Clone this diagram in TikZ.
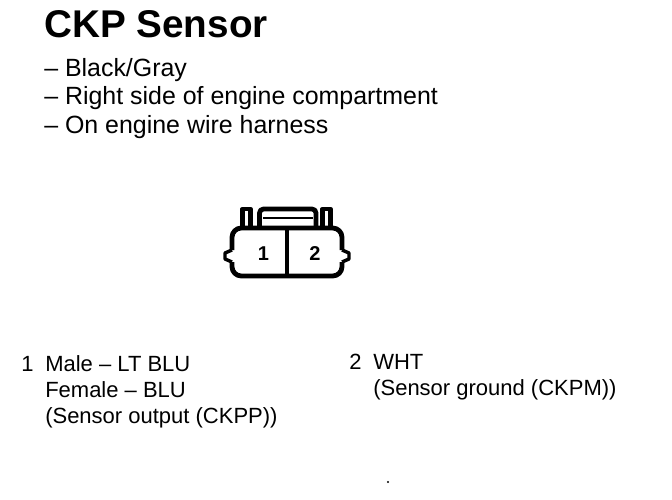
\documentclass[tikz,border=0pt]{standalone}
\usepackage{fontspec}
\setmainfont{Liberation Sans}
\tikzset{
  txt/.style={anchor=base west,inner sep=0pt,font=\fontsize{16.5}{18}\selectfont},
  big/.style={anchor=base west,inner sep=0pt,font=\fontsize{18.7}{20}\selectfont},
  ttl/.style={anchor=base west,inner sep=0pt,font=\fontsize{29}{31}\selectfont\bfseries},
  num/.style={inner sep=0pt,font=\fontsize{15}{16}\selectfont\bfseries},
  ln/.style={line width=3.6pt,line join=round}
}
\begin{document}
\begin{tikzpicture}[x=0.75pt,y=-0.75pt]
\useasboundingbox[fill=white] (0,0) rectangle (672,500);
\node[ttl] (title) at (44,37) {CKP Sensor};
\node[big] (a1) at (44,76) {– Black/Gray};
\node[big] (a2) at (44,104) {– Right side of engine compartment};
\node[big] (a3) at (44,133) {– On engine wire harness};
% tabs and latch
\draw[ln] (242.5,228) -- (242.5,209) -- (250.5,209) -- (250.5,228);
\draw[ln] (322.5,228) -- (322.5,209) -- (330.5,209) -- (330.5,228);
\draw[ln,rounded corners=3pt] (259.5,228) -- (259.5,209) -- (316,209) -- (316,228);
\draw[line width=2pt] (263,218) -- (313,218);
% body
\draw[ln,rounded corners=7pt] (232,250) -- (232,228) -- (342,228) -- (342,250);
\draw[ln,rounded corners=7pt] (232,262) -- (232,276) -- (342,276) -- (342,262);
\draw[line width=2.6pt,line join=round] (232,250) -- (225,253) -- (225,259) -- (232,262);
\draw[line width=2.6pt,line join=round] (342,250) -- (349,253) -- (349,259) -- (342,262);
\draw[line width=3.2pt] (287,228) -- (287,276);
\node[num] (n1) at (263.5,254) {1};
\node[num] (n2) at (315,254) {2};
\node[txt] (b1) at (21,371) {1};
\node[txt] (b2) at (45,371) {Male – LT BLU};
\node[txt] (b3) at (45,397) {Female – BLU};
\node[txt] (b4) at (45,423) {(Sensor output (CKPP))};
\node[txt] (c1) at (349,369) {2};
\node[txt] (c2) at (373,369) {WHT};
\node[txt] (c3) at (373,395) {(Sensor ground (CKPM))};
\fill (388,482) circle (0.8pt);
\end{tikzpicture}
\end{document}
